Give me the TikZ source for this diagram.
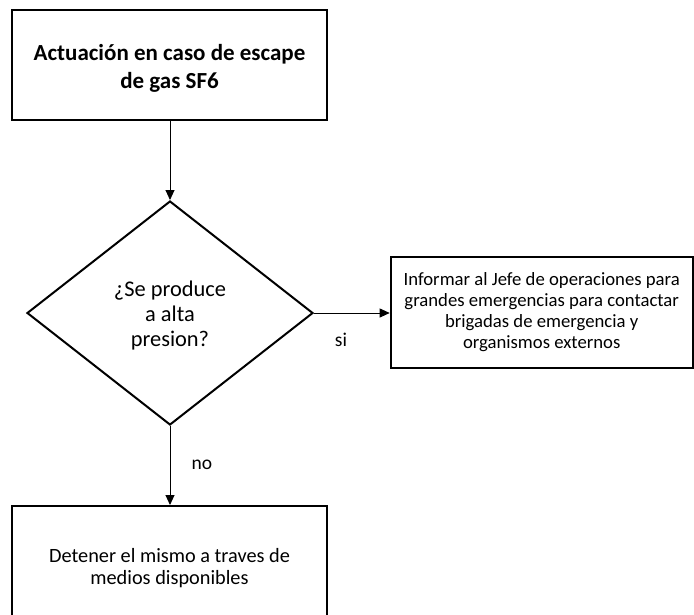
\documentclass[tikz,border=0pt]{standalone}
\usepackage{fontspec}
\setmainfont{Carlito}
\usetikzlibrary{shapes.geometric,arrows.meta}
\begin{document}
\begin{tikzpicture}[x=1pt,y=-1pt,
  boxstyle/.style={draw,line width=2pt,rectangle,inner sep=0pt},
  txt/.style={align=center,inner sep=0pt},
  conn/.style={line width=0.9pt,-{Triangle[length=10pt,width=9pt]}},
  lbl/.style={inner sep=0pt,font=\fontsize{19.5}{22}\selectfont}]
\useasboundingbox (0,0) rectangle (694,614);
\clip (0,0) rectangle (694,614);
% top box
\node[boxstyle,minimum width=315pt,minimum height=110pt] (title) at (169.5,65) {};
\node[txt,font=\bfseries\fontsize{23}{28}\selectfont] (titletext) at (169.5,68.5)
  {Actuación en caso de escape\\de gas SF6};
% diamond
\node[draw,line width=2pt,diamond,aspect=1.277,minimum width=286pt,minimum height=224pt,inner sep=0pt] (dec) at (170,313) {};
\node[txt,font=\fontsize{22.4}{25}\selectfont] (dectext) at (170,316)
  {¿Se produce\\a alta\\presion?};
% right box
\node[boxstyle,minimum width=302pt,minimum height=111pt,txt,font=\fontsize{18.7}{21}\selectfont] (info) at (541.7,312.5)
  {Informar al Jefe de operaciones para\\grandes emergencias para contactar\\brigadas de emergencia y\\organismos externos};
% bottom box
\node[boxstyle,minimum width=315pt,minimum height=124pt,txt,font=\fontsize{20.3}{22}\selectfont] (stop) at (169.5,568)
  {Detener el mismo a traves de\\medios disponibles};
% connectors
\draw[conn] (title.south -| dec.north) -- (dec.north);
\draw[conn] (dec.east) -- (dec.east -| info.west);
\draw[conn] (dec.south) -- (dec.south |- stop.north);
\node[lbl] (si) at (341,340) {si};
\node[lbl] (no) at (202,465) {no};
\end{tikzpicture}
\end{document}
